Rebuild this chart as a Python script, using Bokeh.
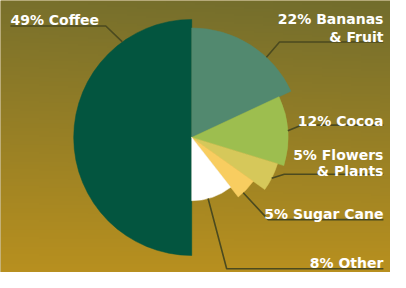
import numpy as np
from bokeh.plotting import figure
from bokeh.models import Range1d, ColumnDataSource
from bokeh.core.properties import value
from bokeh.embed import file_html
from bokeh.resources import INLINE

# ---- data ----
categories = ["Coffee", "Bananas\n& Fruit", "Cocoa", "Flowers\n& Plants", "Sugar Cane", "Other"]
shares = [49, 22, 12, 5, 5, 8]                      # printed percentages
slice_deg = [180, 65, 42, 18.5, 16.5, 38]           # sweep of each slice as drawn
slice_radius = [125, 116, 102, 95, 80, 67]          # radius of each slice as drawn
colors = ["#03553f", "#52896f", "#9dbe4f", "#d6c85a", "#f8cd60", "#ffffff"]

# ---- layout (reference pixel space, y measured from top) ----
W, H = 406, 288
cx, cy = 199, 145
label_side = ["left", "right", "right", "right", "right", "right"]
label_x = [7, 402, 402, 402, 402, 402]
label_baselines = [[21], [20, 39], [128], [164, 180], [226], [278]]
leader_deg = [126, 47, 4, -27, -47, -75]
leader_elbow = [(108, 27), (292, 44), (315, 132), (297, 184), (280, 232), (236, 284)]

def fy(y):
    return H - y

p = figure(width=390, height=272, output_backend="svg", toolbar_location=None,
           x_range=Range1d(-3.5, 409.5), y_range=Range1d(0, H), min_border=0)
p.axis.visible = False
p.grid.visible = False
p.outline_line_color = None
p.background_fill_color = "#977f2a"
p.border_fill_color = "#977f2a"

# background gradient
GH, GW = 144, 40
v = np.linspace(1, 0, GH)[:, None]          # row 0 = bottom -> v=1 (bottom)
xn = np.linspace(0, 1, GW)[None, :]
s = np.clip(v + 0.10 * (1 - xn) * (1 - v), 0, 1)
top = np.array([0x72, 0x6d, 0x2d], float)
bot = np.array([0xb8, 0x90, 0x1f], float)
img = np.empty((GH, GW), dtype=np.uint32)
view = img.view(dtype=np.uint8).reshape((GH, GW, 4))
for k in range(3):
    view[:, :, k] = (top[k] + (bot[k] - top[k]) * s).astype(np.uint8)
view[:, :, 3] = 255
p.image_rgba(image=[img], x=-3.5, y=0, dw=413, dh=H)

# slices
starts, ends = [], []
a = 270.0
for d in slice_deg:
    starts.append(a)
    ends.append(a - d)
    a -= d
src = ColumnDataSource(dict(cat=categories, share=shares, start=starts, end=ends,
                            r=slice_radius, color=colors))
p.wedge(x=cx, y=fy(cy), radius="r", start_angle="start", end_angle="end",
        start_angle_units="deg", end_angle_units="deg", direction="clock",
        fill_color="color", line_color="color", line_width=0.5, source=src)

# leader lines
xs, ys = [], []
for i in range(len(categories)):
    ang = np.deg2rad(leader_deg[i])
    ax = cx + slice_radius[i] * np.cos(ang)
    ay = fy(cy) + slice_radius[i] * np.sin(ang)
    ex, ey = leader_elbow[i]
    xs.append([ax, ex, label_x[i]])
    ys.append([ay, fy(ey), fy(ey)])
p.multi_line(xs=xs, ys=ys, line_color="#4b4a1f", line_width=1.6)

# labels
tx, ty, tt, ta = [], [], [], []
for i, (sh, name) in enumerate(zip(shares, categories)):
    lines = f"{sh}% {name}".split("\n")
    for line, b in zip(lines, label_baselines[i]):
        tx.append(label_x[i])
        ty.append(fy(b))
        tt.append(line)
        ta.append(label_side[i])
p.text(x=tx, y=ty, text=tt, text_align=ta, text_baseline="alphabetic",
       text_font=value("DejaVu Sans"), text_font_style="bold",
       text_font_size="14px", text_color="#ffffff")

open("out.html", "w").write(file_html(p, INLINE))
